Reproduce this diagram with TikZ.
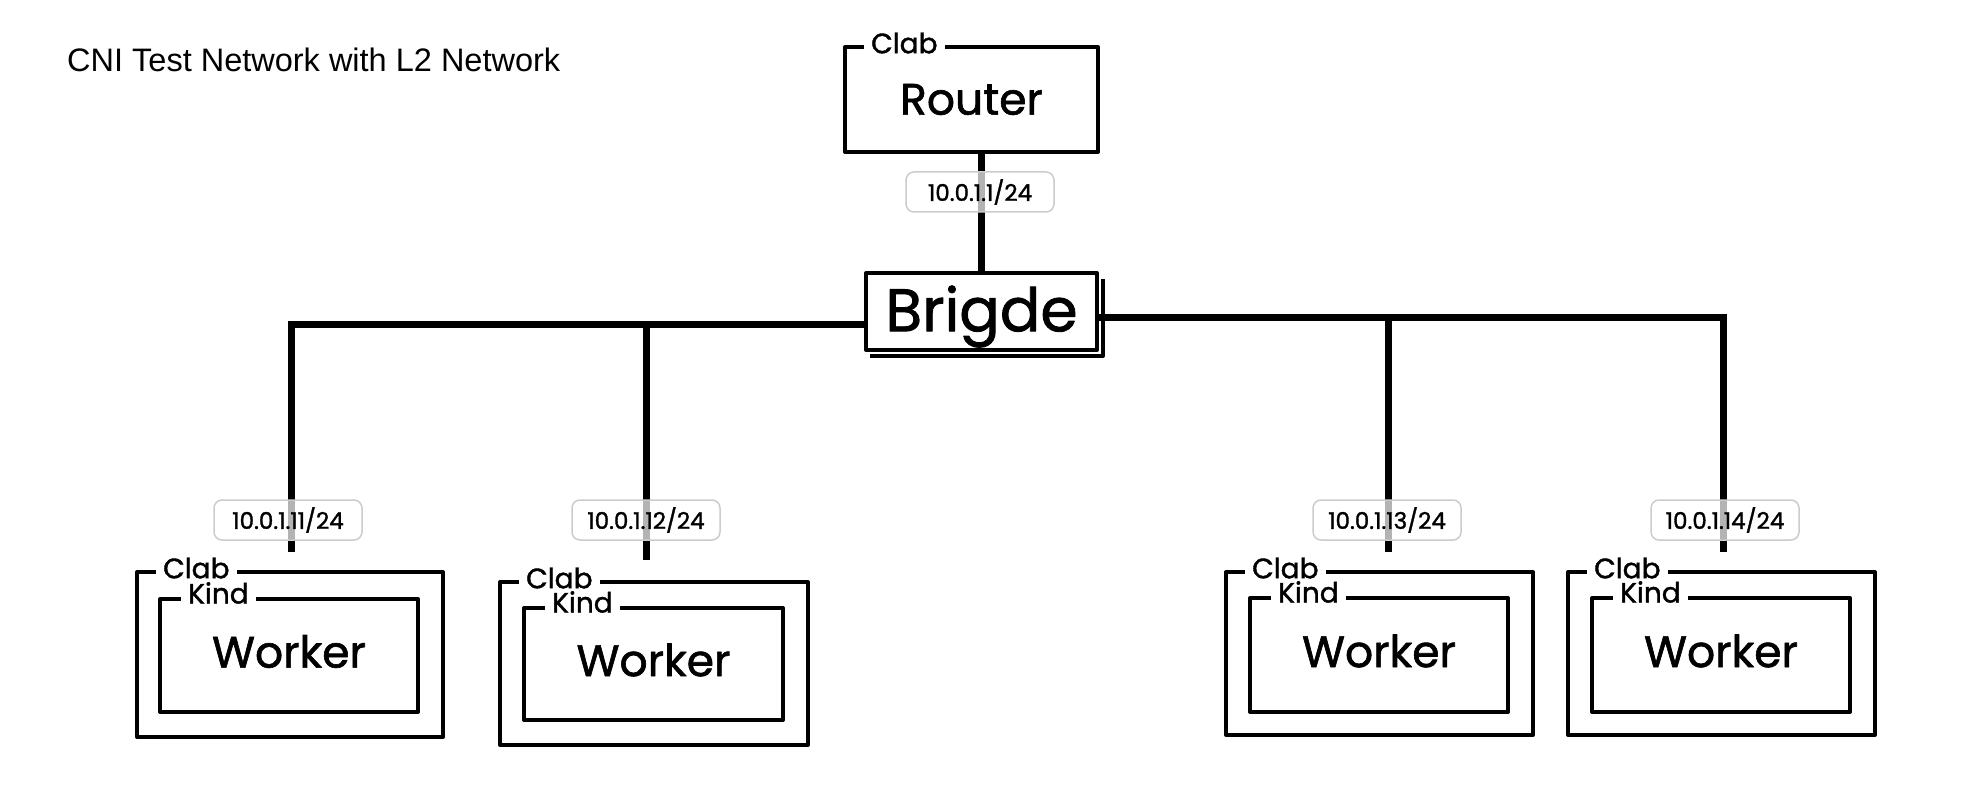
\documentclass[tikz,border=0pt]{standalone}
\usepackage{fontspec}
\setmainfont{Liberation Sans}
\newfontfamily\hand[FakeBold=1.4]{Poppins}
\usetikzlibrary{calc}
\begin{document}
\begin{tikzpicture}[x=1pt,y=-1pt,
  box/.style={draw, line width=4pt, rectangle, inner sep=0pt, line join=round},
  wire/.style={draw, line width=7pt, line cap=butt, line join=miter},
  tag/.style={fill=white, inner xsep=7pt, inner ysep=1pt, anchor=west, font=\hand\fontsize{28}{28}\selectfont},
  ip/.style={draw=black!20, line width=1.5pt, rounded corners=8pt, fill=white, fill opacity=0.7, text opacity=1, minimum width=148pt, minimum height=40pt, inner sep=0pt, font=\hand\fontsize{23}{23}\selectfont},
  bigtext/.style={font=\hand\fontsize{44}{44}\selectfont}]
\useasboundingbox (0,0) rectangle (1986,802);

% title
\node[anchor=west, font=\fontsize{32.5}{32.5}\selectfont, inner sep=0pt] (title) at (67,60) {CNI Test Network with L2 Network};

% router
\node[box, minimum width=253pt, minimum height=105pt, bigtext] (router) at (971.5,99.5) {Router};
\node[tag] (routertag) at ([shift={(21,-2)}]router.north west) {Clab};

% bridge
\node[box, fill=white, minimum width=231pt, minimum height=77pt, font=\hand\fontsize{60}{60}\selectfont] (bridge) at (981.5,311.5) {\raisebox{-5pt}[\height][\depth]{Brigde}};
\draw[line width=4pt, line join=round] ([shift={(4,8)}]bridge.north east) -- ([shift={(4,4)}]bridge.south east) -- ([shift={(6,4)}]bridge.south west);

% workers: outer (clab) and inner (kind)
\foreach \i/\ox/\oy/\ow/\oh/\ix/\iy/\iw/\ih in {
  1/290/654.5/306/165/289/655.5/258/113,
  2/654/663.5/308/163/653.5/664/259/112,
  3/1379.5/653.5/307/163/1379/655/258/114,
  4/1721.5/653.5/307/163/1721/655/258/114}{
  \node[box, minimum width=\ow pt, minimum height=\oh pt] (w\i o) at (\ox,\oy) {};
  \node[box, minimum width=\iw pt, minimum height=\ih pt, bigtext] (w\i) at (\ix,\iy) {\raisebox{4pt}[\height][\depth]{Worker}};
  \node[tag] (w\i clab) at ([shift={(21,-2)}]w\i o.north west) {Clab};
  \node[tag] (w\i kind) at ([shift={(23,-4)}]w\i.north west) {Kind};
}

% drop ends
\coordinate (d1) at (291,552);
\coordinate (d2) at (646,560);
\coordinate (d3) at (1388,552);
\coordinate (d4) at (1723,552);

% connectors
\draw[wire] (bridge.north |- router.south) -- (bridge.north);
\draw[wire] (bridge.west) ++(0,13) coordinate (bl) -| (d1);
\draw[wire] (d2 |- bl) -- (d2);
\draw[wire] (bridge.east) ++(0,6) coordinate (br) -| (d4);
\draw[wire] (d3 |- br) -- (d3);

% ip labels
\node[ip] (ip0) at (980,192) {10.0.1.1/24};
\node[ip] (ip1) at (288,520) {10.0.1.11/24};
\node[ip] (ip2) at (646,520) {10.0.1.12/24};
\node[ip] (ip3) at (1387,520) {10.0.1.13/24};
\node[ip] (ip4) at (1725,520) {10.0.1.14/24};
\end{tikzpicture}
\end{document}
